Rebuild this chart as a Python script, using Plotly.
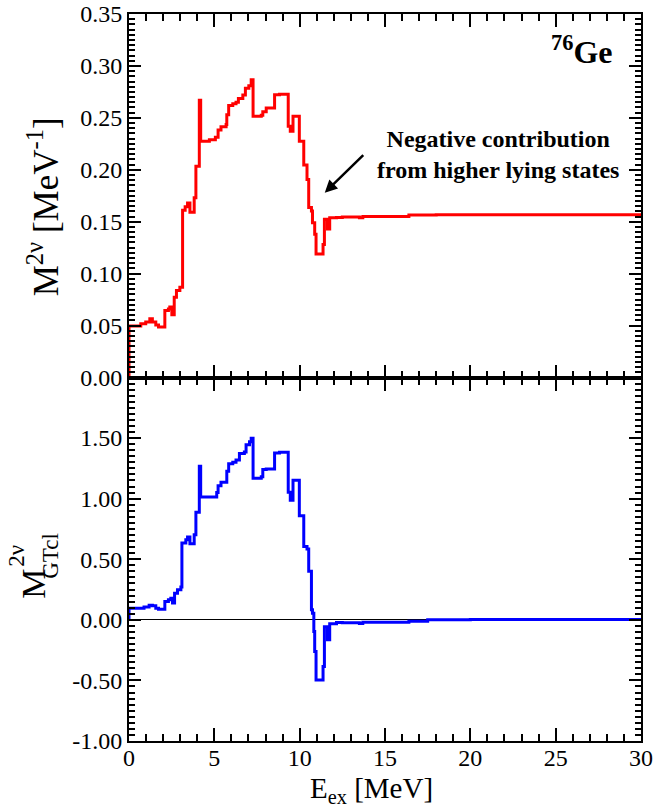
import plotly.graph_objects as go

# ---- data (running sums, step curves) ----
top_x = [0.0, 0.0, 0.69, 0.98, 1.22, 1.37, 1.57, 1.73, 2.10, 2.31, 2.39, 2.51, 2.65, 2.78,
         2.98, 3.14, 3.29, 3.43, 3.57, 3.82, 3.92, 4.12, 4.20, 4.71, 5.06, 5.22, 5.39,
         5.69, 5.73, 5.84, 6.08, 6.27, 6.41, 6.67, 6.82, 7.02, 7.16, 7.27, 7.75, 7.84,
         8.04, 8.53, 8.82, 9.33, 9.45, 9.61, 9.98, 10.24, 10.43, 10.53, 10.69, 10.75,
         10.88, 10.96, 11.37, 11.45, 11.63, 11.76, 12.16, 12.5, 13.5, 13.7, 16.4, 18.0,
         20.0, 25.0, 30.0]
top_y = [0.0, 0.0495, 0.0518, 0.0534, 0.0565, 0.0534, 0.0505, 0.0486, 0.0645, 0.0660,
         0.0680, 0.0604, 0.0773, 0.0837, 0.0869, 0.1610, 0.1645, 0.1680, 0.1590, 0.1730,
         0.2035, 0.2670, 0.2275, 0.2290, 0.2313, 0.2383, 0.2415, 0.2435, 0.2530, 0.2620,
         0.2636, 0.2650, 0.2687, 0.2720, 0.2786, 0.2810, 0.2866, 0.2515, 0.2524, 0.2560,
         0.2594, 0.2722, 0.2728, 0.2420, 0.2370, 0.2515, 0.2275, 0.2045, 0.1907, 0.1636,
         0.1604, 0.1490, 0.1380, 0.1190, 0.1280, 0.1524, 0.1430, 0.1537, 0.1540, 0.1545,
         0.1538, 0.1550, 0.1565, 0.1567, 0.1568, 0.1568, 0.1568]

bot_x = [0.0, 0.0, 0.88, 1.18, 1.37, 1.57, 1.73, 2.10, 2.31, 2.45, 2.55, 2.67, 2.84, 3.04,
         3.10, 3.33, 3.43, 3.57, 3.82, 3.92, 4.12, 4.20, 5.14, 5.22, 5.39, 5.73, 5.84,
         6.08, 6.27, 6.47, 6.76, 6.86, 7.06, 7.16, 7.27, 7.75, 7.84, 8.04, 8.53, 8.82,
         9.33, 9.45, 9.61, 9.98, 10.24, 10.43, 10.53, 10.69, 10.75, 10.83, 10.88, 10.96,
         11.37, 11.45, 11.63, 11.76, 12.16, 12.5, 13.5, 13.7, 16.4, 17.5, 20.0, 25.0, 30.0]
bot_y = [0.0, 0.096, 0.105, 0.121, 0.116, 0.096, 0.088, 0.152, 0.165, 0.179, 0.138, 0.220,
         0.248, 0.270, 0.634, 0.660, 0.683, 0.628, 0.702, 0.887, 1.267, 1.013, 1.050,
         1.107, 1.135, 1.226, 1.289, 1.300, 1.320, 1.372, 1.385, 1.446, 1.470, 1.498,
         1.168, 1.180, 1.240, 1.245, 1.377, 1.383, 1.052, 0.986, 1.151, 0.860, 0.606,
         0.584, 0.400, 0.083, 0.055, -0.096, -0.262, -0.496, -0.386, -0.058, -0.165,
         -0.033, -0.022, -0.025, -0.030, -0.020, -0.012, 0.000, 0.002, 0.003, 0.003]

top_ticks = [0.00, 0.05, 0.10, 0.15, 0.20, 0.25, 0.30, 0.35]
bot_ticks = [-1.0, -0.5, 0.0, 0.5, 1.0, 1.5]
bot_ticktext = ["-1.00", "-0.50", "0.00", "0.50", "1.00", "1.50"]
x_ticks = [0, 5, 10, 15, 20, 25, 30]

FONT = "Liberation Serif, Times New Roman, serif"

# plot-area geometry (pixels)
L, R, T, B = 129, 641.5, 13.5, 741.5
W, H = R - L, B - T


def px(xp):
    return (xp - L) / W


def py(yp):
    return (B - yp) / H


fig = go.Figure()
fig.add_trace(go.Scatter(x=top_x, y=top_y, mode="lines", line=dict(color="#ff0000", width=3, shape="hv"),
                         xaxis="x", yaxis="y", showlegend=False))
fig.add_trace(go.Scatter(x=bot_x, y=bot_y, mode="lines", line=dict(color="#0000ff", width=3, shape="hv"),
                         xaxis="x2", yaxis="y2", showlegend=False))

axis_common = dict(showline=True, linecolor="black", linewidth=2, mirror="allticks", automargin=False,
                   ticks="inside", tickcolor="black", tickwidth=1.5, showgrid=False,
                   tickfont=dict(family=FONT, size=24, color="black"))
minor_x = dict(ticks="inside", dtick=1, ticklen=7, tickcolor="black", tickwidth=1.5)

fig.update_layout(
    width=654, height=809, autosize=False,
    margin=dict(l=L, r=654 - R, t=T, b=809 - B, pad=0),
    paper_bgcolor="white", plot_bgcolor="white",
    xaxis=dict(domain=[0, 1], anchor="y", range=[0, 30], tickvals=x_ticks, showticklabels=False,
               ticklen=13, minor=minor_x, zeroline=False, **axis_common),
    yaxis=dict(domain=[0.5, 1], anchor="x", range=[0, 0.35], tickvals=top_ticks, tickformat=".2f",
               ticklen=12, minor=dict(ticks="inside", dtick=0.005, ticklen=6, tickcolor="black", tickwidth=1.5),
               zeroline=False, **axis_common),
    xaxis2=dict(domain=[0, 1], anchor="y2", range=[0, 30], tickvals=x_ticks, ticklen=13,
                ticklabelstandoff=-6, minor=minor_x, zeroline=False, **axis_common),
    yaxis2=dict(domain=[0, 0.5], anchor="x2", range=[-1, 2], tickvals=bot_ticks, ticktext=bot_ticktext,
                ticklen=12, minor=dict(ticks="inside", dtick=0.05, ticklen=6, tickcolor="black", tickwidth=1.5),
                zeroline=True, zerolinecolor="black", zerolinewidth=1, **axis_common),
)

ann = []
# y title top
ann.append(dict(text="M<sup>2ν</sup> [MeV<sup>-1</sup>]", xref="paper", yref="paper",
                x=px(43), y=py(207), textangle=-90, showarrow=False,
                font=dict(family=FONT, size=35, color="black"), xanchor="center", yanchor="middle"))
# y title bottom (stacked super/subscript)
ann.append(dict(text="M", xref="paper", yref="paper", x=px(34), y=py(584),
                textangle=-90, showarrow=False, font=dict(family=FONT, size=34, color="black"),
                xanchor="center", yanchor="middle"))
ann.append(dict(text="2ν", xref="paper", yref="paper", x=px(17), y=py(556),
                textangle=-90, showarrow=False, font=dict(family=FONT, size=23, color="black"),
                xanchor="center", yanchor="middle"))
ann.append(dict(text="GTcl", xref="paper", yref="paper", x=px(51), y=py(556),
                textangle=-90, showarrow=False, font=dict(family=FONT, size=23, color="black"),
                xanchor="center", yanchor="middle"))
# x title
ann.append(dict(text="E<sub>ex</sub> [MeV]", xref="paper", yref="paper", x=px(372),
                y=py(791), showarrow=False, font=dict(family=FONT, size=29, color="black"),
                xanchor="center", yanchor="middle"))
# nucleus label
ann.append(dict(text="<b><sup>76</sup>Ge</b>", xref="paper", yref="paper", x=px(614),
                y=py(50), showarrow=False, font=dict(family=FONT, size=32, color="black"),
                xanchor="right", yanchor="middle"))
# note text
ann.append(dict(text="<b>Negative contribution<br>from higher lying states</b>", xref="paper", yref="paper",
                x=px(498), y=py(154), showarrow=False,
                font=dict(family=FONT, size=24, color="black"), xanchor="center", yanchor="middle"))
# arrow
ann.append(dict(text="", x=11.47, y=0.178, xref="x", yref="y", ax=40, ay=-39, axref="pixel", ayref="pixel",
                showarrow=True, arrowhead=2, arrowsize=1, arrowwidth=2.5, arrowcolor="black"))
fig.update_layout(annotations=ann)

fig.write_html("out.html", config={"displayModeBar": False, "responsive": False},
               post_script="document.body.style.margin='0';document.body.style.overflow='hidden';")
